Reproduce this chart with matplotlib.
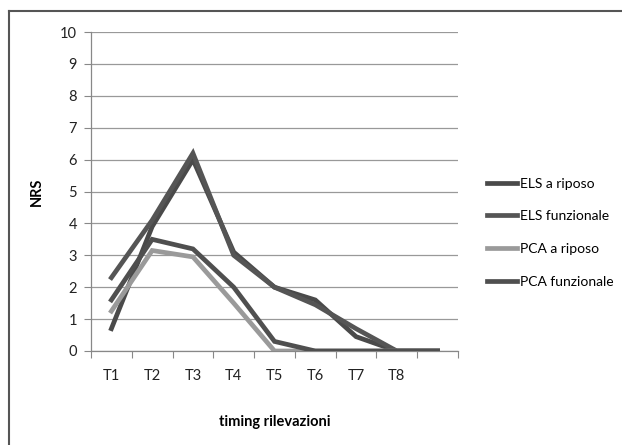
import matplotlib
matplotlib.use("Agg")
import matplotlib.pyplot as plt
from matplotlib.lines import Line2D
import numpy as np

plt.rcParams['font.family'] = ['Lato', 'DejaVu Sans']

categories = ["T1", "T2", "T3", "T4", "T5", "T6", "T7", "T8", ""]
series_names = ["ELS a riposo", "ELS funzionale", "PCA a riposo", "PCA funzionale"]
els_riposo = [0.7, 3.9, 6.0, 3.1, 2.0, 1.6, 0.45, 0.0, 0.0]
els_funz = [2.3, 4.1, 6.2, 3.0, 2.0, 1.45, 0.7, 0.0, 0.0]
pca_riposo = [1.25, 3.15, 2.95, 1.5, 0.0, 0.0, 0.0, 0.0, 0.0]
pca_funz = [1.6, 3.5, 3.2, 2.0, 0.3, 0.0, 0.0, 0.0, 0.0]
y_ticks = list(range(0, 11))

colors = ["#4a4a4a", "#555555", "#9a9a9a", "#4f4f4f"]
data = [els_riposo, els_funz, pca_riposo, pca_funz]

fig = plt.figure(figsize=(6.22, 4.45), dpi=100)
ax = fig.add_axes([91/622, 1-351/445, (458-91)/622, (351-32)/445])

x = np.arange(len(categories))
for vals, c, name in zip(data, colors, series_names):
    ax.plot(x, vals, color=c, lw=3.4, label=name, solid_joinstyle='miter', zorder=3)

ax.set_xlim(-0.5, len(categories) - 0.5)
ax.set_ylim(0, 10)
ax.set_yticks(y_ticks)
ax.set_yticklabels([str(v) for v in y_ticks], fontsize=10.5)
ax.set_xticks(x)
ax.set_xticklabels(categories, fontsize=10.5)
ax.set_xticks(np.arange(-0.5, len(categories)), minor=True)
ax.tick_params(axis='x', which='major', length=0, pad=13, colors='#222222')
ax.tick_params(axis='x', which='minor', length=5, color='#888888', width=0.8)
ax.tick_params(axis='y', length=5, color='#888888', width=0.8, pad=5, colors='#222222')
ax.tick_params(axis='y', color='#888888')
for sp in ['top', 'right']:
    ax.spines[sp].set_visible(False)
for sp in ['left', 'bottom']:
    ax.spines[sp].set_color('#888888')
    ax.spines[sp].set_linewidth(0.9)
ax.yaxis.grid(True, color='#999999', lw=0.9, zorder=0)
ax.set_axisbelow(True)

ax.set_xlabel("timing rilevazioni", fontsize=10.5, fontweight='bold', labelpad=23)
ax.set_ylabel("NRS", fontsize=10.5, fontweight='bold', labelpad=12)

fig.legend(loc='upper left', bbox_to_anchor=(474/622, 1-165/445), frameon=False,
           fontsize=10, handlelength=2.2, handletextpad=0.2, labelspacing=1.5)

# outer frame (left and top borders)
fig.add_artist(Line2D([9/622, 9/622], [0, 1-11/445], color='#555555', lw=1.5, transform=fig.transFigure))
fig.add_artist(Line2D([9/622, 1], [1-11/445, 1-11/445], color='#555555', lw=1.5, transform=fig.transFigure))

fig.savefig("out.png", dpi=100)
